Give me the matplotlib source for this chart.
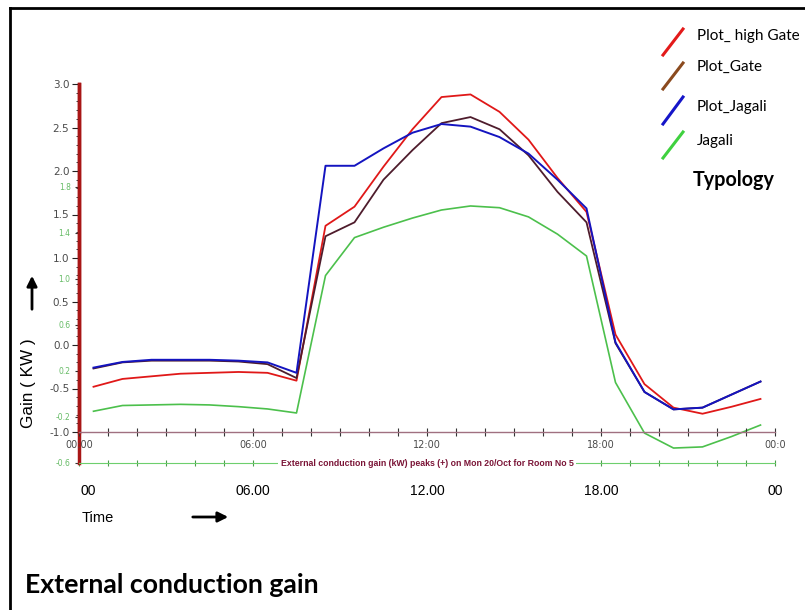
import matplotlib
matplotlib.use("Agg")
import matplotlib.pyplot as plt
from matplotlib.lines import Line2D
import numpy as np

plt.rcParams['axes.unicode_minus'] = False

# hourly values, plotted at the half hour
hours = [h + 0.5 for h in range(24)]
high_gate = [-0.48, -0.39, -0.36, -0.33, -0.32, -0.31, -0.32, -0.41, 1.37, 1.59, 2.05, 2.48,
             2.85, 2.88, 2.68, 2.36, 1.92, 1.53, 0.12, -0.45, -0.72, -0.79, -0.71, -0.62]
gate = [-0.27, -0.20, -0.18, -0.18, -0.18, -0.19, -0.22, -0.38, 1.25, 1.41, 1.90, 2.24,
        2.55, 2.62, 2.48, 2.18, 1.76, 1.41, 0.02, -0.54, -0.74, -0.72, -0.57, -0.42]
plot_jagali = [-0.26, -0.195, -0.17, -0.17, -0.17, -0.18, -0.20, -0.32, 2.06, 2.06, 2.26, 2.44,
               2.54, 2.51, 2.39, 2.20, 1.90, 1.57, 0.03, -0.54, -0.74, -0.72, -0.57, -0.42]
# Jagali is on its own (green) scale
jagali = [-0.15, -0.10, -0.095, -0.09, -0.095, -0.11, -0.13, -0.165, 1.03, 1.36, 1.45, 1.53,
          1.60, 1.635, 1.62, 1.54, 1.39, 1.20, 0.10, -0.34, -0.47, -0.46, -0.37, -0.27]

xtick_labels = ["00:00", "06:00", "12:00", "18:00", "00:0"]
big_time_labels = ["00", "06.00", "12.00", "18.00", "00"]
legend_names = ["Plot_ high Gate", "Plot_Gate", "Plot_Jagali", "Jagali"]
legend_colors = ["#e31a1a", "#8b4a1e", "#1515c8", "#3fd13f"]

W, H = 805, 610
fig = plt.figure(figsize=(W / 100, H / 100), dpi=100)

def fx(x):
    return x / W

def fy(y):
    return 1 - y / H

red = "#a81616"
grey = "#4a4a4a"

# green overlay chart (drawn underneath)
axg = fig.add_axes([fx(79), fy(463), 696 / W, 379 / H])
axg.set_xlim(0, 24)
axg.set_ylim(-0.6, -0.6 + 379 / 115)
axg.plot(hours, jagali, color="#4cc04c", lw=1.2)
for s in ["top", "right"]:
    axg.spines[s].set_visible(False)
axg.spines["left"].set_color(red)
axg.spines["left"].set_linewidth(2.5)
axg.spines["bottom"].set_color("#6dcf6d")
axg.set_xticks(np.arange(0, 25, 1))
axg.set_xticklabels([])
axg.tick_params(axis="x", direction="inout", length=4, color="#4c9c4c")
axg.set_yticks([-0.6, -0.2, 0.2, 0.6, 1.0, 1.4, 1.8])
axg.set_yticklabels(["-0.6", "-0.2", "0.2", "0.6", "1.0", "1.4", "1.8"])
axg.tick_params(axis="y", direction="out", length=3, color="#333333",
                labelsize=5.5, labelcolor="#66bb66", pad=3)
axg.patch.set_alpha(0)
axg.set_zorder(0)
axg.text(12.0, -0.6, "External conduction gain (kW) peaks (+) on Mon 20/Oct for Room No 5",
         ha="center", va="center", fontsize=6.3, fontweight="bold", color="#7a1436",
         family="Liberation Sans",
         bbox=dict(facecolor="white", edgecolor="none", pad=1.5))

# main chart
ax = fig.add_axes([fx(79), fy(432), 696 / W, 348 / H])
ax.set_xlim(0, 24)
ax.set_ylim(-1, 3)
ax.patch.set_alpha(0)
ax.set_zorder(1)
ax.plot(hours, high_gate, color="#e01818", lw=1.3)
ax.plot(hours, gate, color="#4e1c2c", lw=1.3)
ax.plot(hours, plot_jagali, color="#1414c0", lw=1.4)
for s in ["top", "right"]:
    ax.spines[s].set_visible(False)
ax.spines["left"].set_color(red)
ax.spines["left"].set_linewidth(2.5)
ax.spines["bottom"].set_color("#a07080")
ax.spines["bottom"].set_linewidth(1)
ax.set_yticks(np.arange(-1, 3.01, 0.5))
ax.set_yticklabels(["%.1f" % v for v in np.arange(-1, 3.01, 0.5)])
ax.set_yticks(np.arange(-1, 3.01, 0.1), minor=True)
ax.tick_params(axis="y", which="major", direction="out", length=5, color="#222222",
               labelsize=7.5, labelcolor=grey, pad=2)
ax.tick_params(axis="y", which="minor", direction="out", length=2.5, color="#222222")
ax.set_xticks(np.arange(0, 25, 1))
ax.set_xticklabels([xtick_labels[i // 6] if i % 6 == 0 else "" for i in range(25)])
ax.tick_params(axis="x", direction="inout", length=6, color="#333333",
               labelsize=7, labelcolor=grey, pad=3)

# big time labels under the chart
for i, lab in enumerate(big_time_labels):
    x = ax.transData.transform((i * 6, 0))[0] / W
    if i == 0:
        x = fx(88)
    fig.text(x, fy(491), lab, ha="center", va="center", fontsize=10,
             family="Liberation Sans", color="black")
fig.text(fx(82), fy(518), "Time", ha="left", va="center", fontsize=10.5,
         family="Liberation Sans", color="black")
fig.add_artist(matplotlib.patches.FancyArrowPatch(
    (fx(190), fy(517)), (fx(231), fy(517)), transform=fig.transFigure,
    arrowstyle="-|>,head_length=6,head_width=3", lw=2, color="black"))
fig.add_artist(matplotlib.patches.FancyArrowPatch(
    (fx(32), fy(312)), (fx(32), fy(273)), transform=fig.transFigure,
    arrowstyle="-|>,head_length=6,head_width=3", lw=2, color="black"))
fig.text(fx(29), fy(383), "Gain ( KW )", rotation=90, ha="center", va="center",
         fontsize=12.3, family="Liberation Sans", color="black")

# typology legend
slash_y = [(55, 29), (89, 63), (124, 97), (158, 132)]
text_y = [36, 67, 107, 141]
for (y0, y1), ty, name, col in zip(slash_y, text_y, legend_names, legend_colors):
    fig.add_artist(Line2D([fx(663), fx(683)], [fy(y0), fy(y1)], color=col, lw=2.2))
    fig.text(fx(697), fy(ty), name, ha="left", va="center", fontsize=11, family="Lato",
             color="black")
fig.text(fx(693), fy(180), "Typology", ha="left", va="center", fontsize=14.2,
         family="Lato", fontweight="bold", color="black")

fig.text(fx(25), fy(585), "External conduction gain", ha="left", va="center",
         fontsize=19.2, family="Lato", fontweight="bold", color="black")

# frame
fig.add_artist(Line2D([fx(10), 1.0], [fy(8), fy(8)], color="black", lw=2))
fig.add_artist(Line2D([fx(10), fx(10)], [fy(8), 0.0], color="black", lw=2))

fig.savefig("out.png", dpi=100)
